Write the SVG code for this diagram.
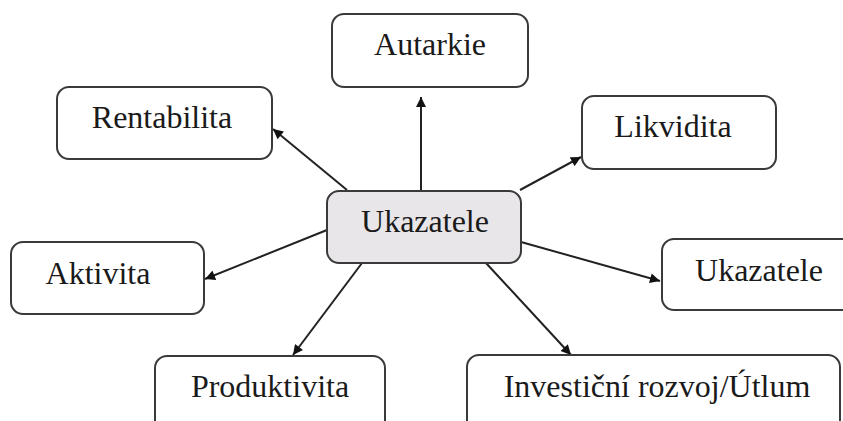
<svg xmlns="http://www.w3.org/2000/svg" width="843" height="421" viewBox="0 0 843 421">
<style>
.box{fill:#ffffff;stroke:#3a3a3a;stroke-width:2}
.center{fill:#e8e6e8;stroke:#3a3a3a;stroke-width:2}
.lbl{font-family:"Liberation Serif","Times New Roman",serif;font-size:32px;fill:#1a1a1a;text-anchor:middle}
.con{stroke:#222;stroke-width:2;fill:none;marker-end:url(#ah)}
</style>
<defs>
<marker id="ah" viewBox="0 0 10 10" refX="10" refY="5" markerWidth="11" markerHeight="10" markerUnits="userSpaceOnUse" orient="auto">
<path d="M0,0 L10,5 L0,10 z" fill="#111"/>
</marker>
</defs>
<rect width="843" height="421" fill="#ffffff"/>
<g id="connectors">
<line class="con" x1="421" y1="191" x2="421" y2="97"/>
<line class="con" x1="347" y1="190" x2="273" y2="129"/>
<line class="con" x1="520" y1="190" x2="581" y2="157"/>
<line class="con" x1="327" y1="230" x2="205" y2="279"/>
<line class="con" x1="521" y1="242" x2="660" y2="281"/>
<line class="con" x1="362" y1="263" x2="293" y2="355"/>
<line class="con" x1="486" y1="263" x2="571" y2="355"/>
</g>
<g id="node-autarkie">
<rect class="box" x="332" y="14" width="196" height="73" rx="12"/>
<text class="lbl" x="430" y="55">Autarkie</text>
</g>
<g id="node-rentabilita">
<rect class="box" x="57" y="87" width="215" height="72" rx="12"/>
<text class="lbl" x="162" y="128">Rentabilita</text>
</g>
<g id="node-likvidita">
<rect class="box" x="582" y="96" width="194" height="73" rx="12"/>
<text class="lbl" x="673" y="137">Likvidita</text>
</g>
<g id="node-ukazatele-center">
<rect class="center" x="327" y="191" width="194" height="72" rx="12"/>
<text class="lbl" x="425" y="232">Ukazatele</text>
</g>
<g id="node-aktivita">
<rect class="box" x="11" y="242" width="193" height="72" rx="12"/>
<text class="lbl" x="98" y="284">Aktivita</text>
</g>
<g id="node-ukazatele-right">
<rect class="box" x="662" y="239" width="200" height="71" rx="12"/>
<text class="lbl" x="759" y="281">Ukazatele</text>
</g>
<g id="node-produktivita">
<rect class="box" x="155" y="356" width="230" height="90" rx="12"/>
<text class="lbl" x="270" y="397">Produktivita</text>
</g>
<g id="node-investicni">
<rect class="box" x="467" y="355" width="373" height="90" rx="12"/>
<text class="lbl" x="657" y="397">Investiční rozvoj/Útlum</text>
</g>
</svg>
